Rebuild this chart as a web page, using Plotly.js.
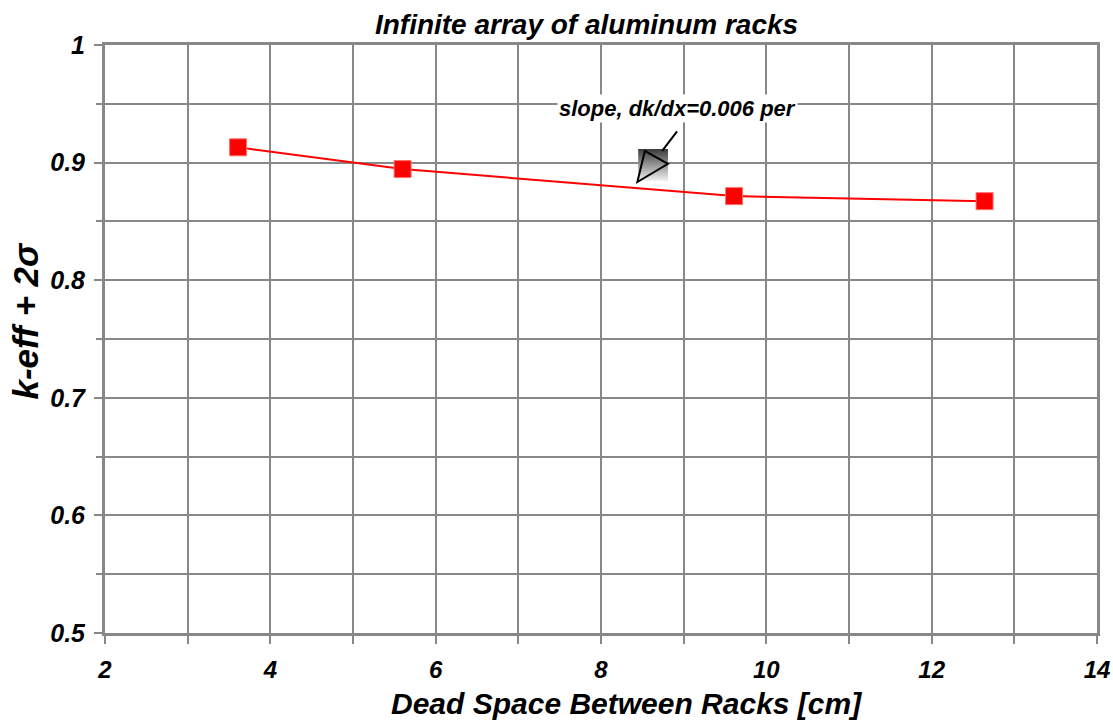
<!DOCTYPE html>
<html>
<head>
<meta charset="utf-8">
<script src="https://cdn.plot.ly/plotly-3.0.1.min.js"></script>
<style>body{margin:0;padding:0;background:#fff;}#chart{width:1113px;height:723px;}</style>
</head>
<body>
<div id="chart"></div>
<script>
const deadSpace = [3.61, 5.6, 9.61, 12.64];
const keff = [0.913, 0.8945, 0.8715, 0.8672];
const xTickVals = [2, 4, 6, 8, 10, 12, 14];
const xTickText = ['2', '4', '6', '8', '10', '12', '14'];
const yTickVals = [0.5, 0.6, 0.7, 0.8, 0.9, 1];
const yTickText = ['0.5', '0.6', '0.7', '0.8', '0.9', '1'];
const titleText = 'Infinite array of aluminum racks';
const xTitle = 'Dead Space Between Racks [cm]';
const yTitle = 'k-eff + 2σ';
const noteText = 'slope, dk/dx=0.006 per';

const F = {family: 'Liberation Sans', weight: 700, style: 'italic', color: '#000'};
const B = s => '<b><i>' + s + '</i></b>';

const traces = [
  {
    x: [8.45, 8.81, 8.81, 8.45, 8.45],
    y: [0.9116, 0.9116, 0.8844, 0.8844, 0.9116],
    mode: 'lines', fill: 'toself', line: {width: 0},
    fillgradient: {type: 'vertical', colorscale: [[0, '#f2f2f2'], [1, '#3a3a3a']]},
    hoverinfo: 'skip', showlegend: false
  },
  {
    x: deadSpace, y: keff, mode: 'lines+markers',
    line: {color: '#ff0000', width: 2},
    marker: {symbol: 'square', size: 17, color: '#ff0000', line: {color: '#ff7070', width: 1}},
    showlegend: false
  }
];

const layout = {
  width: 1113, height: 723,
  margin: {l: 105, r: 16, t: 45, b: 90},
  paper_bgcolor: '#fff', plot_bgcolor: '#fff',
  font: F,
  title: {text: B(titleText), font: Object.assign({}, F, {size: 28}), x: 0.527, xanchor: 'center', y: 0.967, yanchor: 'middle'},
  xaxis: {
    range: [2, 14], tickmode: 'array', tickvals: xTickVals, ticktext: xTickText.map(B),
    showgrid: true, gridcolor: '#888', gridwidth: 2,
    minor: {dtick: 1, tick0: 2, showgrid: true, gridcolor: '#888', gridwidth: 2, ticks: 'outside', ticklen: 8, tickcolor: '#888', tickwidth: 2},
    ticks: 'outside', ticklen: 8, tickcolor: '#888', tickwidth: 2,
    showline: true, linecolor: '#888', linewidth: 3, mirror: true,
    zeroline: false,
    tickfont: Object.assign({}, F, {size: 24}),
    ticklabelstandoff: 5
  },
  yaxis: {
    range: [0.5, 1], tickmode: 'array', tickvals: yTickVals, ticktext: yTickText.map(B),
    showgrid: true, gridcolor: '#888', gridwidth: 2,
    minor: {dtick: 0.05, tick0: 0.5, showgrid: true, gridcolor: '#888', gridwidth: 2, ticks: 'outside', ticklen: 6, tickcolor: '#888', tickwidth: 2},
    ticks: 'outside', ticklen: 8, tickcolor: '#888', tickwidth: 2,
    showline: true, linecolor: '#888', linewidth: 3, mirror: true,
    zeroline: false,
    tickfont: Object.assign({}, F, {size: 25}),
    ticklabelstandoff: 4
  },
  shapes: [
    {type: 'path', xref: 'x', yref: 'y', path: 'M 8.53,0.9099 L 8.81,0.8989 L 8.44,0.8835 Z', line: {color: '#000', width: 2}, fillcolor: 'rgba(0,0,0,0)'},
    {type: 'line', xref: 'x', yref: 'y', x0: 8.92, y0: 0.9265, x1: 8.74, y1: 0.9099, line: {color: '#000', width: 2}}
  ],
  annotations: [
    {x: 8.93, y: 0.9464, xref: 'x', yref: 'y', text: B(noteText), showarrow: false,
     font: Object.assign({}, F, {size: 22}), bgcolor: '#fff', borderpad: 1},
    {x: 0.5262, y: -0.1207, xref: 'paper', yref: 'paper', xanchor: 'center', yanchor: 'middle',
     text: B(xTitle), showarrow: false, font: Object.assign({}, F, {size: 30})},
    {x: -0.0811, y: 0.5306, xref: 'paper', yref: 'paper', xanchor: 'center', yanchor: 'middle', textangle: -90,
     text: B(yTitle), showarrow: false, font: Object.assign({}, F, {size: 35})}
  ]
};

Plotly.newPlot('chart', traces, layout, {displayModeBar: false, staticPlot: true});
</script>
</body>
</html>
